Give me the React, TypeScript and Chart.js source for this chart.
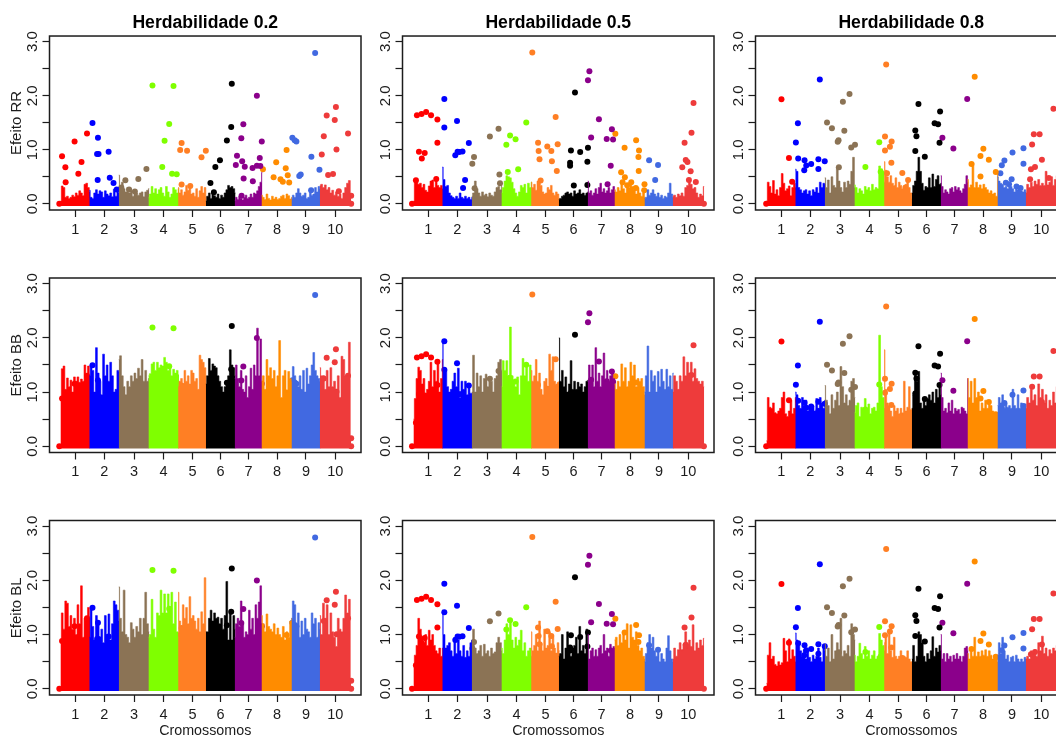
import React, { useEffect, useRef } from "react";
import { Chart, registerables } from "chart.js";

Chart.register(...registerables);

const chromosomes = ["1", "2", "3", "4", "5", "6", "7", "8", "9", "10"];
const chromColors = ["#FF0000", "#0000FF", "#8B7355", "#7FFF00", "#FF7F24", "#000000", "#8B008B", "#FF8C00", "#4169E1", "#EE3B3B"];
const chromEdges = [-2, 98, 200, 303, 406, 502, 602, 695, 799, 897, 1006];
const chromTicks = [49, 150, 253, 355, 456, 553, 650, 749, 849, 951];
const effectTicks = [0, 0.5, 1, 1.5, 2, 2.5, 3];
const heritabilityTitles = ["Herdabilidade 0.2", "Herdabilidade 0.5", "Herdabilidade 0.8"];
const effectLabels = ["Efeito RR", "Efeito BB", "Efeito BL"];

// Significant markers by heritability, one list per chromosome: [position, effect]
const points02 = [
  [[-6, 0], [3.5, 0.88], [15, 0.675], [16, 0.4], [47, 1.153], [60, 0.558], [71, 0.773], [90, 1.3]],
  [[109, 1.497], [128, 1.22], [125, 0.92], [130, 0.92], [127, 0.44], [165, 0.963], [169, 0.48], [182, 0.387], [193, 0.264]],
  [[223, 0.436], [236, 0.264], [256, 0.227], [268, 0.46], [296, 0.644], [209, 0.3]],
  [[317, 2.19], [390, 2.178], [375, 1.478], [359, 1.166], [351, 0.68], [385, 0.558], [401, 0.546]],
  [[418, 1.123], [413, 0.994], [437, 0.98], [487, 0.859], [502, 0.98], [418, 0.356], [448, 0.33]],
  [[592, 2.22], [590, 1.423], [575, 1.172], [551, 0.804], [535, 0.68], [518, 0.387], [530, 0.215]],
  [[679, 2.0], [632, 1.472], [625, 1.215], [696, 1.153], [610, 0.89], [689, 0.847], [628, 0.785], [606, 0.718], [637, 0.687], [664, 0.663], [679, 0.706], [691, 0.7], [633, 0.466], [665, 0.417], [626, 0.147]],
  [[700, 0.638], [782, 0.994], [746, 0.767], [779, 0.656], [786, 0.528], [737, 0.49], [761, 0.454], [769, 0.41], [791, 0.393]],
  [[881, 2.79], [802, 1.22], [810, 1.178], [816, 1.153], [868, 0.871], [896, 0.632], [831, 0.54], [826, 0.515], [867, 0.25]],
  [[953, 1.79], [921, 1.632], [949, 1.552], [911, 1.252], [995, 1.3], [955, 1.006], [904, 0.914], [926, 0.534], [943, 0.552], [963, 0.233], [1006, 0.15], [1006, 0]],
];
const points05 = [
  [[-7, 0], [10, 1.638], [26, 1.663], [42, 1.7], [59, 1.638], [81, 1.558], [81, 1.129], [17, 0.963], [37, 0.939], [27, 0.84], [6.5, 0.436], [77, 0.46]],
  [[105, 1.94], [105, 1.411], [149, 1.534], [190, 1.123], [143, 0.9], [151, 0.963], [157, 0.96], [168, 0.97], [177, 0.44], [170, 0.294]],
  [[263, 1.245], [293, 1.387], [208, 0.865], [202, 0.742], [210, 0.288], [296, 0.54], [298, 0.38]],
  [[389, 1.503], [333, 1.264], [320, 1.092], [352, 1.196], [361, 0.638], [325, 0.589]],
  [[410, 2.8], [491, 1.607], [430, 1.129], [432, 0.975], [435, 0.822], [462, 1.061], [476, 0.975], [498, 1.104], [478, 0.785], [495, 0.607], [439, 0.43]],
  [[558, 2.06], [544, 0.988], [576, 0.957], [603, 1.037], [601, 0.779], [541, 0.76], [541, 0.706], [554, 0.337], [601, 0.35]],
  [[608, 2.454], [603, 2.288], [641, 1.564], [686, 1.38], [668, 1.2], [690, 1.19], [614, 1.227], [682, 0.706], [671, 0.362]],
  [[698, 1.294], [730, 1.037], [770, 1.178], [780, 0.988], [778, 0.865], [779, 0.607], [718, 0.583], [731, 0.49], [723, 0.4], [753, 0.4], [739, 0.344], [769, 0.294], [799, 0.362], [798, 0.25]],
  [[815, 0.804], [846, 0.718], [836, 0.44]],
  [[969, 1.865], [962, 1.313], [938, 1.129], [942, 0.81], [948, 0.773], [930, 0.675], [959, 0.6], [953, 0.44], [977, 0.405], [1005, 0]],
];
const points08 = [
  [[-3, 0], [50, 1.933], [76, 0.847], [87, 0.41]],
  [[183, 2.3], [107, 1.49], [100, 1.135], [108, 0.84], [130, 0.804], [136, 0.71], [153, 0.736], [129, 0.62], [178, 0.822], [200, 0.785], [178, 0.644]],
  [[286, 2.03], [263, 1.89], [208, 1.503], [225, 1.4], [268, 1.35], [248, 1.178], [245, 1.147], [305, 1.092], [292, 1.043], [249, 0.675]],
  [[341, 0.68], [389, 1.141], [394, 0.595]],
  [[413, 2.58], [409, 1.245], [432, 1.153], [426, 1.055], [409, 0.988], [431, 0.76], [469, 0.57], [416, 0.564], [489, 0.44], [480, 0.3]],
  [[525, 1.847], [600, 1.706], [581, 1.49], [593, 1.472], [514, 1.356], [518, 1.252], [598, 1.129], [514, 0.975], [547, 0.871]],
  [[694, 1.94], [608, 1.22], [646, 1.025]],
  [[720, 2.35], [750, 1.018], [740, 0.883], [769, 0.816], [709, 0.736], [740, 0.503], [793, 0.589]],
  [[889, 1.03], [851, 0.95], [823, 0.8], [814, 0.712], [889, 0.742], [809, 0.564], [848, 0.454], [839, 0.36], [828, 0.39], [865, 0.32], [879, 0.29]],
  [[993, 1.76], [925, 1.288], [945, 1.288], [919, 1.098], [953, 0.816], [929, 0.68], [915, 0.638], [912, 0.454], [977, 0.479]],
];

// Marker effect profile by chromosome
const rr02 = [
  [0.05, 0.33, 0.3, 0.12, 0.14, 0.1, 0.12, 0.16, 0.13, 0.2, 0.16, 0.24, 0.2, 0.15, 0.36, 0.38, 0.3, 0.22],
  [0.25, 0.12, 0.1, 0.2, 0.26, 0.18, 0.24, 0.22, 0.12, 0.24, 0.18, 0.15, 0.2, 0.13, 0.27, 0.14, 0.25, 0.2],
  [0.53, 0.3, 0.4, 0.28, 0.22, 0.3, 0.2, 0.24, 0.14, 0.24, 0.2, 0.16, 0.2, 0.22, 0.13, 0.22, 0.25, 0.28],
  [0.12, 0.18, 0.32, 0.2, 0.28, 0.18, 0.26, 0.3, 0.2, 0.14, 0.32, 0.22, 0.12, 0.18, 0.3, 0.26, 0.2, 0.28],
  [0.3, 0.2, 0.26, 0.16, 0.22, 0.34, 0.25, 0.33, 0.18, 0.2, 0.14, 0.28, 0.12, 0.24, 0.32, 0.2, 0.3, 0.12],
  [0.05, 0.14, 0.2, 0.1, 0.22, 0.15, 0.12, 0.18, 0.1, 0.16, 0.12, 0.2, 0.26, 0.34, 0.3, 0.32, 0.28, 0.2],
  [0.06, 0.12, 0.08, 0.14, 0.1, 0.07, 0.12, 0.16, 0.1, 0.12, 0.18, 0.12, 0.2, 0.18, 0.24, 0.32, 0.4, 0.58],
  [0.16, 0.12, 0.08, 0.18, 0.1, 0.07, 0.14, 0.09, 0.12, 0.08, 0.1, 0.14, 0.16, 0.1, 0.18, 0.15, 0.09, 0.12],
  [0.1, 0.16, 0.12, 0.2, 0.28, 0.2, 0.14, 0.16, 0.2, 0.1, 0.12, 0.26, 0.16, 0.18, 0.3, 0.22, 0.32, 0.28],
  [0.34, 0.36, 0.3, 0.35, 0.26, 0.3, 0.2, 0.25, 0.16, 0.22, 0.14, 0.18, 0.1, 0.2, 0.3, 0.38, 0.43, 0.14],
];
const rr05 = [
  [0.05, 0.44, 0.42, 0.36, 0.38, 0.3, 0.36, 0.25, 0.22, 0.33, 0.42, 0.44, 0.3, 0.46, 0.34, 0.3, 0.34, 0.28],
  [0.68, 0.45, 0.32, 0.34, 0.2, 0.15, 0.12, 0.1, 0.14, 0.1, 0.2, 0.12, 0.1, 0.14, 0.1, 0.12, 0.08, 0.12],
  [0.14, 0.2, 0.42, 0.28, 0.2, 0.14, 0.22, 0.16, 0.18, 0.13, 0.2, 0.16, 0.14, 0.22, 0.3, 0.32, 0.26, 0.38],
  [0.2, 0.3, 0.42, 0.52, 0.5, 0.48, 0.4, 0.28, 0.2, 0.14, 0.22, 0.34, 0.3, 0.36, 0.2, 0.38, 0.3, 0.4],
  [0.4, 0.3, 0.36, 0.25, 0.42, 0.4, 0.34, 0.22, 0.18, 0.2, 0.3, 0.26, 0.34, 0.2, 0.16, 0.22, 0.18, 0.1],
  [0.08, 0.1, 0.14, 0.16, 0.2, 0.22, 0.18, 0.2, 0.14, 0.24, 0.18, 0.2, 0.26, 0.18, 0.2, 0.16, 0.2, 0.22],
  [0.42, 0.2, 0.24, 0.16, 0.2, 0.28, 0.18, 0.3, 0.38, 0.22, 0.28, 0.2, 0.24, 0.3, 0.2, 0.26, 0.32, 0.22],
  [0.26, 0.22, 0.3, 0.24, 0.4, 0.28, 0.2, 0.36, 0.3, 0.4, 0.32, 0.26, 0.18, 0.3, 0.2, 0.14, 0.2, 0.12],
  [0.1, 0.12, 0.26, 0.16, 0.2, 0.26, 0.18, 0.14, 0.2, 0.12, 0.16, 0.1, 0.14, 0.12, 0.2, 0.38, 0.18, 0.12],
  [0.14, 0.16, 0.12, 0.18, 0.15, 0.2, 0.14, 0.3, 0.34, 0.44, 0.36, 0.28, 0.3, 0.2, 0.12, 0.18, 0.15, 0.32],
];
const rr08 = [
  [0.05, 0.4, 0.32, 0.2, 0.43, 0.18, 0.26, 0.15, 0.3, 0.56, 0.38, 0.24, 0.28, 0.33, 0.15, 0.3, 0.38, 0.3],
  [0.64, 0.6, 0.3, 0.26, 0.2, 0.24, 0.26, 0.18, 0.24, 0.15, 0.26, 0.22, 0.3, 0.2, 0.4, 0.3, 0.38, 0.36],
  [0.48, 0.3, 0.44, 0.2, 0.5, 0.34, 0.3, 0.68, 0.42, 0.3, 0.22, 0.4, 0.3, 0.42, 0.36, 0.6, 0.86, 0.3],
  [0.35, 0.3, 0.2, 0.28, 0.24, 0.18, 0.32, 0.26, 0.3, 0.24, 0.36, 0.26, 0.3, 0.28, 0.7, 0.65, 0.6, 0.4],
  [0.78, 0.62, 0.5, 0.4, 0.52, 0.38, 0.34, 0.48, 0.3, 0.4, 0.34, 0.28, 0.3, 0.36, 0.44, 0.3, 0.2, 0.1],
  [0.2, 0.34, 0.42, 0.6, 0.86, 0.6, 0.38, 0.25, 0.32, 0.3, 0.48, 0.3, 0.55, 0.32, 0.45, 0.52, 0.36, 0.38],
  [0.52, 0.32, 0.2, 0.26, 0.22, 0.18, 0.28, 0.3, 0.22, 0.32, 0.26, 0.3, 0.24, 0.2, 0.28, 0.36, 0.52, 0.4],
  [0.45, 0.3, 0.35, 0.76, 0.3, 0.4, 0.3, 0.35, 0.28, 0.36, 0.3, 0.26, 0.2, 0.24, 0.18, 0.2, 0.14, 0.55],
  [0.5, 0.42, 0.38, 0.36, 0.3, 0.32, 0.28, 0.35, 0.32, 0.28, 0.22, 0.3, 0.26, 0.32, 0.24, 0.22, 0.26, 0.22],
  [0.2, 0.36, 0.3, 0.4, 0.32, 0.42, 0.36, 0.45, 0.34, 0.38, 0.34, 0.6, 0.35, 0.4, 0.5, 0.34, 0.45, 0.52],
];
const bb02 = [
  [0.9, 1.43, 1.48, 1.05, 1.26, 1.1, 1.22, 1.0, 1.28, 1.2, 1.28, 1.18, 1.24, 1.2, 1.5, 1.3, 1.48, 1.3],
  [1.3, 1.5, 1.4, 1.0, 1.82, 1.35, 1.2, 0.95, 1.7, 1.3, 1.5, 1.2, 1.55, 1.3, 1.0, 1.05, 1.4, 1.38],
  [1.6, 1.67, 1.3, 1.1, 0.95, 1.2, 1.1, 1.3, 1.2, 1.35, 1.25, 1.44, 1.3, 1.6, 1.2, 1.4, 1.2, 1.25],
  [1.3, 1.34, 1.52, 1.55, 1.4, 1.55, 1.45, 1.5, 1.48, 1.64, 1.55, 1.4, 1.48, 1.3, 1.42, 1.35, 1.4, 1.32],
  [1.1, 1.2, 1.25, 1.15, 1.4, 1.2, 1.3, 1.15, 1.4, 1.35, 1.2, 1.25, 1.05, 1.68, 1.6, 1.55, 1.45, 1.3],
  [1.15, 1.3, 1.62, 1.4, 1.52, 1.48, 1.45, 1.3, 1.2, 1.1, 1.0, 1.1, 1.2, 1.3, 1.78, 1.5, 1.45, 1.3],
  [1.25, 1.5, 1.25, 1.1, 1.4, 1.05, 1.0, 1.3, 0.9, 1.1, 1.44, 1.05, 1.5, 1.3, 2.18, 1.3, 1.98, 1.2],
  [1.2, 1.3, 1.05, 1.6, 1.3, 1.45, 1.25, 1.4, 1.1, 1.3, 1.95, 0.9, 1.3, 1.4, 1.0, 1.38, 1.25, 1.2],
  [1.25, 1.47, 1.3, 1.2, 1.1, 1.3, 1.05, 1.4, 1.0, 1.44, 1.15, 1.3, 1.5, 1.73, 1.4, 1.3, 1.25, 1.2],
  [1.45, 1.3, 1.3, 1.05, 1.4, 1.1, 1.45, 1.1, 1.2, 1.05, 1.3, 0.9, 1.66, 1.6, 1.3, 1.3, 1.92, 0.15],
];
const bb05 = [
  [0.5, 0.88, 1.25, 1.46, 1.4, 1.15, 1.25, 0.95, 1.05, 1.2, 1.55, 1.1, 1.4, 1.2, 1.6, 1.0, 1.25, 1.6],
  [1.95, 1.4, 1.42, 1.1, 1.0, 1.05, 1.2, 1.35, 1.1, 1.44, 0.9, 1.2, 1.05, 1.2, 0.95, 1.1, 0.98, 0.98],
  [1.0, 1.68, 1.0, 1.35, 1.1, 1.3, 1.0, 1.25, 1.33, 1.1, 1.25, 1.2, 1.0, 1.25, 1.3, 1.55, 1.6, 1.4],
  [1.1, 1.58, 1.4, 1.58, 1.3, 2.2, 1.3, 1.2, 1.1, 1.28, 0.95, 1.3, 1.62, 1.3, 1.5, 1.2, 1.5, 1.2],
  [1.4, 1.2, 1.3, 1.6, 1.2, 1.35, 1.05, 0.95, 1.2, 1.25, 1.1, 1.7, 1.4, 1.65, 1.2, 1.1, 1.18, 1.2],
  [2.0, 1.2, 1.4, 1.1, 1.28, 1.0, 1.15, 1.58, 1.05, 1.2, 1.05, 1.18, 1.1, 1.15, 1.0, 1.1, 1.2, 1.22],
  [1.2, 1.5, 1.25, 1.5, 1.1, 1.82, 1.2, 1.35, 1.1, 1.3, 1.72, 1.2, 1.4, 1.2, 1.3, 1.4, 1.25, 1.2],
  [1.15, 1.05, 1.2, 1.1, 1.52, 1.2, 1.45, 1.1, 1.2, 1.55, 1.3, 1.5, 1.1, 1.25, 1.2, 1.25, 1.1, 0.95],
  [1.0, 1.3, 1.85, 1.0, 1.4, 1.2, 1.3, 1.0, 1.38, 1.1, 1.42, 1.2, 1.05, 1.42, 1.1, 1.3, 1.05, 1.35],
  [1.0, 1.3, 1.2, 1.05, 1.3, 1.2, 1.65, 1.3, 1.55, 1.35, 1.55, 1.2, 1.43, 1.25, 1.2, 1.15, 1.2, 1.1],
];
const bb08 = [
  [0.1, 0.9, 0.72, 0.7, 0.8, 0.62, 0.6, 0.65, 0.7, 0.9, 1.0, 0.6, 0.55, 0.65, 0.85, 0.6, 0.7, 0.9],
  [1.0, 0.95, 0.75, 0.7, 0.9, 0.75, 0.85, 0.65, 0.72, 0.7, 0.75, 0.65, 0.88, 0.7, 0.9, 0.8, 0.7, 0.85],
  [1.12, 0.85, 0.75, 0.6, 0.95, 0.7, 0.85, 1.0, 0.75, 1.47, 1.1, 0.8, 0.95, 0.75, 0.85, 1.2, 1.25, 0.9],
  [0.62, 0.75, 0.8, 0.55, 0.72, 0.7, 0.88, 0.68, 0.78, 0.6, 0.7, 0.72, 0.65, 0.8, 2.05, 1.1, 0.9, 0.7],
  [1.78, 1.05, 0.8, 0.75, 0.65, 0.55, 0.75, 0.65, 0.7, 0.6, 0.7, 0.58, 1.2, 0.65, 0.72, 1.1, 0.68, 0.7],
  [0.7, 0.95, 1.35, 1.2, 1.38, 0.8, 0.7, 0.9, 0.75, 0.88, 0.95, 0.85, 1.0, 0.8, 1.05, 0.9, 1.1, 0.95],
  [1.35, 0.9, 0.65, 0.7, 0.62, 0.8, 0.65, 0.85, 0.6, 0.7, 0.65, 0.68, 0.6, 0.72, 0.7, 0.65, 0.6, 1.25],
  [1.25, 0.9, 1.2, 0.8, 1.25, 0.9, 1.0, 0.65, 0.8, 0.7, 0.85, 0.7, 0.82, 0.75, 0.65, 0.6, 0.62, 0.62],
  [0.75, 0.9, 0.8, 0.95, 0.7, 0.8, 0.72, 0.75, 0.7, 1.05, 0.75, 0.7, 0.95, 0.7, 0.8, 0.75, 0.78, 0.78],
  [0.7, 0.9, 0.8, 1.05, 0.85, 0.95, 0.75, 1.15, 0.9, 1.05, 0.8, 0.95, 0.7, 0.85, 0.75, 1.0, 0.8, 1.1],
];
const bl02 = [
  [0.9, 1.4, 1.1, 1.62, 1.58, 1.15, 1.35, 1.1, 1.3, 1.0, 1.55, 1.2, 1.9, 0.95, 1.3, 1.25, 1.5, 1.3],
  [0.95, 1.5, 1.15, 0.9, 1.35, 1.25, 0.95, 1.1, 0.85, 1.35, 1.0, 1.38, 0.9, 1.2, 1.62, 1.55, 1.45, 1.25],
  [1.88, 1.3, 1.05, 1.82, 1.0, 0.95, 0.85, 1.22, 1.1, 0.95, 1.15, 1.05, 1.3, 1.0, 1.3, 1.78, 1.2, 1.05],
  [0.95, 1.0, 1.65, 1.1, 0.95, 1.4, 1.35, 1.82, 1.4, 1.75, 1.4, 1.75, 1.45, 1.78, 1.2, 1.6, 1.05, 0.95],
  [1.78, 1.25, 1.15, 1.55, 1.3, 1.5, 1.2, 1.7, 1.3, 1.35, 1.25, 1.1, 1.3, 1.05, 1.42, 1.2, 2.05, 1.0],
  [1.05, 1.05, 1.3, 1.45, 1.25, 1.4, 1.3, 1.32, 1.2, 1.3, 1.1, 1.35, 1.98, 0.9, 1.42, 0.9, 1.35, 1.1],
  [0.95, 1.2, 1.3, 1.15, 1.62, 1.2, 0.95, 1.05, 1.0, 1.45, 1.1, 1.3, 1.0, 1.55, 1.3, 1.6, 1.9, 1.2],
  [1.35, 1.2, 1.05, 1.38, 1.15, 1.1, 1.05, 1.2, 1.0, 1.12, 1.0, 0.95, 1.15, 0.9, 1.05, 0.95, 1.25, 1.3],
  [1.3, 1.62, 1.55, 1.2, 1.4, 0.95, 1.25, 1.0, 1.3, 1.1, 1.05, 0.95, 1.4, 1.2, 1.3, 0.95, 1.22, 1.1],
  [1.35, 1.0, 1.58, 1.3, 1.55, 1.0, 1.4, 1.05, 0.95, 0.78, 1.3, 1.1, 1.05, 1.3, 1.73, 1.4, 1.65, 0.15],
];
const bl05 = [
  [0.45, 0.62, 0.8, 1.3, 1.1, 0.95, 0.85, 1.0, 0.8, 1.08, 0.9, 1.0, 0.8, 0.7, 0.65, 0.75, 0.6, 0.75],
  [1.45, 1.0, 0.75, 0.8, 0.85, 0.7, 0.6, 0.95, 0.65, 0.9, 0.7, 0.6, 0.8, 0.58, 0.7, 0.6, 0.85, 0.9],
  [0.9, 1.1, 0.75, 0.65, 0.7, 0.8, 0.6, 0.82, 0.65, 0.7, 0.6, 0.75, 0.65, 0.68, 0.85, 0.95, 0.85, 0.7],
  [0.75, 0.65, 0.9, 1.2, 1.0, 1.25, 0.9, 0.75, 0.95, 0.8, 0.9, 1.08, 0.7, 0.85, 0.6, 0.7, 0.75, 0.6],
  [1.05, 0.7, 0.8, 1.0, 0.7, 1.25, 0.85, 0.7, 1.1, 0.75, 0.8, 1.05, 0.7, 0.95, 0.75, 0.65, 0.85, 0.7],
  [0.6, 0.65, 1.0, 0.55, 0.75, 1.05, 0.7, 0.6, 0.75, 0.8, 0.95, 0.65, 1.15, 0.7, 0.8, 0.65, 1.1, 0.8],
  [1.0, 0.55, 0.7, 0.75, 0.6, 0.72, 0.6, 0.75, 0.8, 0.65, 1.0, 0.7, 0.75, 0.6, 0.82, 0.7, 0.78, 0.75],
  [0.9, 0.95, 0.8, 1.0, 0.85, 1.0, 0.9, 1.2, 0.75, 1.18, 0.95, 0.9, 1.05, 0.8, 0.7, 0.75, 0.6, 0.55],
  [0.5, 0.65, 0.85, 1.0, 0.75, 0.95, 0.7, 0.6, 0.72, 0.5, 0.65, 0.55, 0.5, 0.75, 0.98, 0.7, 0.55, 0.5],
  [0.55, 0.75, 0.6, 0.72, 0.85, 0.7, 0.82, 1.05, 0.75, 0.9, 0.78, 1.18, 0.7, 0.85, 0.75, 0.9, 0.8, 0.93],
];
const bl08 = [
  [0.1, 0.62, 0.85, 0.55, 0.6, 0.45, 0.42, 0.5, 0.44, 0.48, 0.93, 0.7, 0.5, 0.92, 0.55, 0.72, 0.6, 0.5],
  [1.03, 0.9, 0.8, 0.7, 0.6, 0.72, 0.55, 0.68, 0.58, 0.5, 0.62, 0.55, 0.6, 0.75, 0.58, 0.5, 0.8, 0.7],
  [0.82, 0.6, 0.75, 0.5, 1.0, 0.55, 0.7, 0.85, 0.7, 1.3, 0.6, 0.7, 0.65, 0.8, 0.6, 1.2, 1.0, 0.9],
  [0.62, 0.5, 0.6, 0.84, 0.65, 0.55, 0.78, 0.6, 0.7, 0.55, 0.62, 0.7, 0.55, 0.6, 1.02, 0.9, 0.8, 0.7],
  [0.85, 1.0, 0.65, 1.1, 0.7, 0.58, 0.95, 0.6, 0.55, 0.6, 0.7, 0.55, 0.6, 0.58, 0.7, 0.55, 0.5, 0.5],
  [0.55, 0.8, 0.5, 0.6, 1.05, 1.0, 0.85, 0.6, 0.5, 0.65, 0.55, 0.7, 0.96, 0.6, 0.75, 0.68, 0.8, 0.7],
  [1.0, 0.55, 0.65, 0.5, 0.65, 0.55, 0.6, 0.5, 0.62, 0.55, 0.65, 0.55, 0.6, 0.5, 0.6, 0.75, 0.78, 0.7],
  [0.65, 0.55, 0.75, 0.6, 0.95, 0.6, 0.68, 0.6, 0.7, 0.62, 0.72, 0.6, 0.7, 0.62, 0.55, 0.6, 0.55, 0.5],
  [0.62, 0.85, 0.65, 0.95, 0.7, 0.55, 0.62, 0.5, 0.58, 0.6, 0.5, 0.62, 0.55, 0.5, 0.55, 0.5, 0.58, 0.55],
  [0.55, 0.6, 0.55, 0.7, 0.65, 0.72, 0.6, 0.85, 0.7, 0.97, 0.65, 0.75, 0.6, 0.72, 0.65, 0.75, 0.7, 0.8],
];

const profileGrid = [
  [rr02, rr05, rr08],
  [bb02, bb05, bb08],
  [bl02, bl05, bl08],
];
const pointsByColumn = [points02, points05, points08];

const FONT = "'Liberation Sans', Arial, sans-serif";
const INK = "#1c1c1c";
const colLefts = [0, 353, 706];
const rowLayout = [
  { top: 0, height: 240, padTop: 36, axisH: 30 },
  { top: 240, height: 245, padTop: 38, axisH: 32.5 },
  { top: 480, height: 265, padTop: 40.5, axisH: 50 },
];
const CANVAS_W = 364;
const EDGE_OVERLAP = 3;

const boxPlugin = {
  id: "rBox",
  afterDraw(chart: any) {
    const { ctx, chartArea: a } = chart;
    ctx.save();
    ctx.strokeStyle = INK;
    ctx.lineWidth = 1.5;
    ctx.strokeRect(a.left, a.top, a.right - a.left, a.bottom - a.top);
    ctx.restore();
  },
};

function Panel({ row, col }: { row: number; col: number }) {
  const ref = useRef<HTMLCanvasElement | null>(null);
  const layout = rowLayout[row];
  useEffect(() => {
    const profile = profileGrid[row][col];
    // Dots lie under the profiles; later chromosomes paint over earlier ones.
    const fills = profile.map((values, c) => {
      const start = chromEdges[c];
      const end = chromEdges[c + 1] + (c < 9 ? EDGE_OVERLAP : 0);
      const step = (end - start) / (values.length - 1);
      return {
        type: "line",
        order: 10 - c,
        data: values.map((y, i) => ({ x: start + i * step, y })),
        borderColor: chromColors[c],
        backgroundColor: chromColors[c],
        borderWidth: 0.6,
        pointRadius: 0,
        stepped: "middle",
        fill: { value: -0.04 },
      };
    });
    const dots = pointsByColumn[col].map((pts, c) => ({
      type: "scatter",
      order: 20,
      data: pts.map(([x, y]) => ({ x, y })),
      backgroundColor: chromColors[c],
      borderWidth: 0,
      pointRadius: 3,
      showLine: false,
    }));
    const chart = new Chart(ref.current as HTMLCanvasElement, {
      type: "scatter",
      data: { datasets: [...fills, ...dots] as any },
      plugins: [boxPlugin],
      options: {
        animation: false,
        responsive: false,
        events: [],
        layout: {
          autoPadding: false,
          padding: { top: row === 0 ? 0 : layout.padTop, right: 3, left: 0, bottom: 0 },
        },
        plugins: {
          legend: { display: false },
          tooltip: { enabled: false },
          title: {
            display: row === 0,
            text: heritabilityTitles[col],
            fullSize: false,
            color: "#000",
            font: { family: FONT, size: 17.6, weight: "bold", lineHeight: 1.2 },
            padding: { top: 12.5, bottom: 2.4 },
          },
        },
        scales: {
          x: {
            type: "linear",
            min: -40,
            max: 1040,
            border: { display: false },
            grid: { drawOnChartArea: false, drawTicks: true, tickLength: 7, tickColor: INK, tickWidth: 1.2 },
            afterBuildTicks(scale: any) {
              scale.ticks = chromTicks.map((value) => ({ value }));
            },
            afterFit(scale: any) {
              scale.height = layout.axisH;
            },
            ticks: {
              autoSkip: false,
              maxRotation: 0,
              minRotation: 0,
              padding: 4,
              color: INK,
              font: { family: FONT, size: 14.5 },
              callback: (value: number) => chromosomes[chromTicks.indexOf(value)],
            },
            title: {
              display: row === 2,
              text: "Cromossomos",
              color: INK,
              font: { family: FONT, size: 14.3, lineHeight: 1.2 },
              padding: { top: 0, bottom: 5.5 },
            },
          },
          y: {
            type: "linear",
            min: -0.115,
            max: 3.105,
            border: { display: false },
            grid: { drawOnChartArea: false, drawTicks: true, tickLength: 7, tickColor: INK, tickWidth: 1.2 },
            afterBuildTicks(scale: any) {
              scale.ticks = effectTicks.map((value) => ({ value }));
            },
            afterFit(scale: any) {
              scale.width = 49.5;
            },
            ticks: {
              autoSkip: false,
              minRotation: 90,
              maxRotation: 90,
              crossAlign: "center",
              padding: -1,
              color: INK,
              font: { family: FONT, size: 15 },
              callback: (value: number) => (Number.isInteger(value) ? value.toFixed(1) : ""),
            },
            title: {
              display: col === 0,
              text: effectLabels[row],
              color: INK,
              font: { family: FONT, size: 15, lineHeight: 1.2 },
              padding: { top: 8, bottom: 0 },
            },
          },
        },
      } as any,
    });
    return () => chart.destroy();
  }, [row, col]);
  return (
    <canvas
      ref={ref}
      width={CANVAS_W}
      height={layout.height}
      style={{ position: "absolute", left: colLefts[col], top: layout.top, width: CANVAS_W, height: layout.height }}
    />
  );
}

export default function App() {
  return (
    <div style={{ position: "absolute", left: 0, top: 0, width: 1056, height: 735, overflow: "hidden", background: "#fff" }}>
      {[0, 1, 2].map((row) =>
        [0, 1, 2].map((col) => <Panel key={`${row}-${col}`} row={row} col={col} />)
      )}
    </div>
  );
}
